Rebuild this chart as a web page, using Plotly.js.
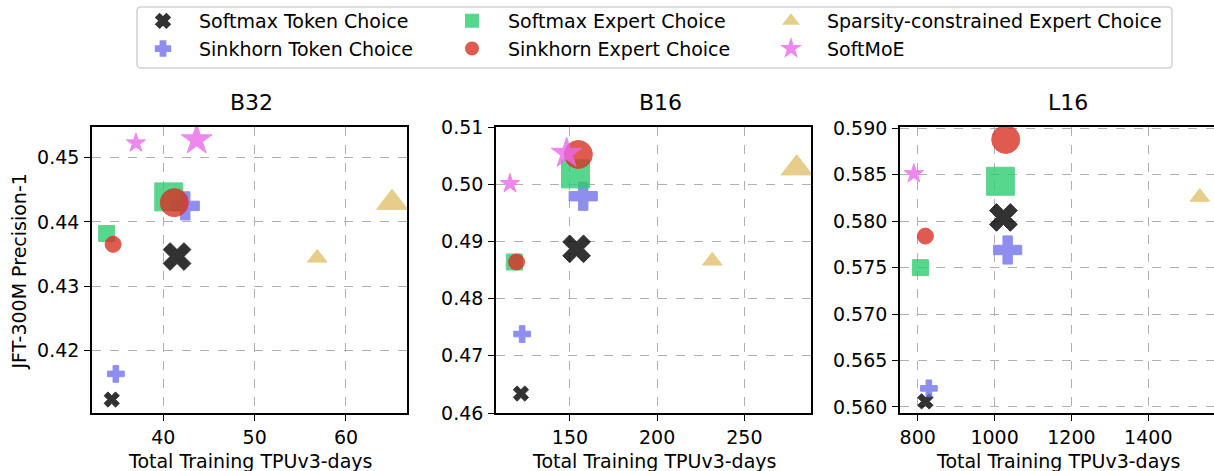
<!DOCTYPE html>
<html>
<head>
<meta charset="utf-8">
<script src="https://cdn.plot.ly/plotly-3.0.1.min.js"></script>
<style>html,body{margin:0;padding:0;background:#fff;}#chart{width:1214px;height:471px;}</style>
</head>
<body>
<div id="chart"></div>
<script>
// ---- data ----
const seriesNames = ["Softmax Token Choice", "Sinkhorn Token Choice", "Softmax Expert Choice",
                     "Sinkhorn Expert Choice", "Sparsity-constrained Expert Choice", "SoftMoE"];
const panelTitles = ["B32", "B16", "L16"];

// per series: [small model point, large model point]
const B32_x = [[34.35, 41.5], [34.8, 42.4], [33.8, 40.6], [34.5, 41.2], [56.85, 65.05], [37.0, 43.65]];
const B32_y = [[0.4123, 0.4346], [0.4163, 0.4425], [0.4382, 0.4439], [0.4365, 0.4430], [0.4344, 0.4430], [0.4523, 0.4528]];

const B16_x = [[121.9, 153.8], [122.6, 157.6], [118.1, 153.2], [119.4, 154.8], [231.6, 280.0], [115.6, 148.1]];
const B16_y = [[0.4634, 0.4887], [0.4738, 0.4979], [0.4864, 0.5018], [0.4864, 0.5052], [0.4866, 0.5028], [0.5001, 0.5054]];

const L16_x = [[820, 1023], [829, 1034], [807, 1015], [820, 1029], [1534], [790]];
const L16_y = [[0.5606, 0.5804], [0.5620, 0.5769], [0.5750, 0.5843], [0.5784, 0.5888], [0.5826], [0.5851]];

const xTickVals = [[40, 50, 60], [150, 200, 250], [800, 1000, 1200, 1400]];
const yTickVals = [[0.42, 0.43, 0.44, 0.45], [0.46, 0.47, 0.48, 0.49, 0.50, 0.51],
                   [0.560, 0.565, 0.570, 0.575, 0.580, 0.585, 0.590]];

// ---- styling ----
const colors = ["#000000", "#7373ec", "#2ecc71", "#d83124", "#e0c36d", "#ea6aea"];
const symbols = ["x", "cross", "square", "circle", "triangle-up", "star"];
const smallSize = [13.5, 14, 16, 16, 17, 14.5];
const largeSize = [24.5, 23.5, 28, 28, 27, 23];
const legendOf = ["legend", "legend", "legend2", "legend2", "legend3", "legend3"];

const W = 1214, H = 471;
const FONT = "DejaVu Sans";
const FS = 19;
const panels = [[B32_x, B32_y], [B16_x, B16_y], [L16_x, L16_y]];
const axSuffix = ["", "2", "3"];

const traces = [];
panels.forEach(function (p, pi) {
  const xs = p[0], ys = p[1];
  seriesNames.forEach(function (name, si) {
    const sizes = xs[si].map(function (_, k) { return k === 0 ? smallSize[si] : largeSize[si]; });
    traces.push({
      type: "scatter", mode: "markers",
      x: xs[si], y: ys[si], name: name,
      legend: legendOf[si], legendgroup: name, showlegend: pi === 0,
      xaxis: "x" + axSuffix[pi], yaxis: "y" + axSuffix[pi],
      cliponaxis: true,
      marker: { symbol: symbols[si], size: sizes, color: colors[si], opacity: 0.8,
                line: { color: colors[si], width: 1 } },
      hoverinfo: "x+y+name"
    });
  });
});

const yDom = [(H - 413) / H, (H - 127) / H];
const xDoms = [[92 / W, 407 / W], [496 / W, 811 / W], [900 / W, 1]];
const xRanges = [[32.19, 66.68], [107.6, 288.2], [753.9, 1571]];
const yRanges = [[0.4102, 0.4548], [0.46, 0.51], [0.55935, 0.59014]];
const yDigits = [2, 2, 3];

function xAxis(i) {
  return {
    domain: xDoms[i], range: xRanges[i], anchor: "y" + axSuffix[i],
    tickmode: "array", tickvals: xTickVals[i], ticktext: xTickVals[i].map(String),
    showgrid: true, gridcolor: "#b0b0b0", griddash: "dash", gridwidth: 1,
    zeroline: false, showline: true, linecolor: "#000", linewidth: 1.6, mirror: true,
    ticks: "outside", ticklen: 6, tickwidth: 1.3, tickcolor: "#000",
    tickfont: { family: FONT, size: FS, color: "#000" }, automargin: false
  };
}
function yAxis(i) {
  return {
    domain: yDom, range: yRanges[i], anchor: "x" + axSuffix[i],
    tickmode: "array", tickvals: yTickVals[i],
    ticktext: yTickVals[i].map(function (v) { return v.toFixed(yDigits[i]); }),
    showgrid: true, gridcolor: "#b0b0b0", griddash: "dash", gridwidth: 1,
    zeroline: false, showline: true, linecolor: "#000", linewidth: 1.6, mirror: i < 2,
    ticks: "outside", ticklen: 6, tickwidth: 1.3, tickcolor: "#000",
    ticklabelstandoff: 1,
    tickfont: { family: FONT, size: FS, color: "#000" }, automargin: false
  };
}

const titleX = [251.7, 660, 1068];
const xTitleX = [249.5, 653.5, 1058];
const annotations = [];
panelTitles.forEach(function (t, i) {
  annotations.push({ text: t, xref: "paper", yref: "paper", x: titleX[i] / W, y: (H - 103) / H,
    xanchor: "center", yanchor: "middle", showarrow: false, font: { family: FONT, size: 22, color: "#000" } });
  annotations.push({ text: "Total Training TPUv3-days", xref: "paper", yref: "paper",
    x: xTitleX[i] / W, y: (H - 461) / H, xanchor: "center", yanchor: "middle", showarrow: false,
    font: { family: FONT, size: FS, color: "#000" } });
});
annotations.push({ text: "JFT-300M Precision-1", xref: "paper", yref: "paper", x: 18.5 / W, y: (H - 272) / H,
  xanchor: "center", yanchor: "middle", textangle: -90, showarrow: false,
  font: { family: FONT, size: FS, color: "#000" } });

function legendCol(xpx) {
  return { orientation: "v", x: xpx / W, y: 1 - 2 / H, xanchor: "left", yanchor: "top",
    itemsizing: "constant", itemwidth: 62, traceorder: "normal", tracegroupgap: 0,
    bgcolor: "rgba(0,0,0,0)", borderwidth: 0,
    font: { family: FONT, size: FS, color: "#000" } };
}

// legend frame (rounded rectangle)
const bx0 = 137, bx1 = 1172, by0 = 7, by1 = 68, rr = 4;
function px(x) { return x / W; }
function py(y) { return 1 - y / H; }
const framePath = "M" + px(bx0 + rr) + "," + py(by0) + " L" + px(bx1 - rr) + "," + py(by0) +
  " Q" + px(bx1) + "," + py(by0) + " " + px(bx1) + "," + py(by0 + rr) +
  " L" + px(bx1) + "," + py(by1 - rr) + " Q" + px(bx1) + "," + py(by1) + " " + px(bx1 - rr) + "," + py(by1) +
  " L" + px(bx0 + rr) + "," + py(by1) + " Q" + px(bx0) + "," + py(by1) + " " + px(bx0) + "," + py(by1 - rr) +
  " L" + px(bx0) + "," + py(by0 + rr) + " Q" + px(bx0) + "," + py(by0) + " " + px(bx0 + rr) + "," + py(by0) + " Z";

const layout = {
  width: W, height: H, margin: { l: 0, r: 0, t: 0, b: 0 },
  paper_bgcolor: "#fff", plot_bgcolor: "#fff",
  font: { family: FONT, size: FS, color: "#000" },
  xaxis: xAxis(0), xaxis2: xAxis(1), xaxis3: xAxis(2),
  yaxis: yAxis(0), yaxis2: yAxis(1), yaxis3: yAxis(2),
  showlegend: true,
  legend: legendCol(127), legend2: legendCol(436), legend3: legendCol(755),
  shapes: [{ type: "path", xref: "paper", yref: "paper", path: framePath,
    line: { color: "#d2d2d2", width: 1.5 }, fillcolor: "rgba(255,255,255,0.8)", layer: "below" }],
  annotations: annotations
};

Plotly.newPlot("chart", traces, layout, { displayModeBar: false, responsive: false });
</script>
</body>
</html>
